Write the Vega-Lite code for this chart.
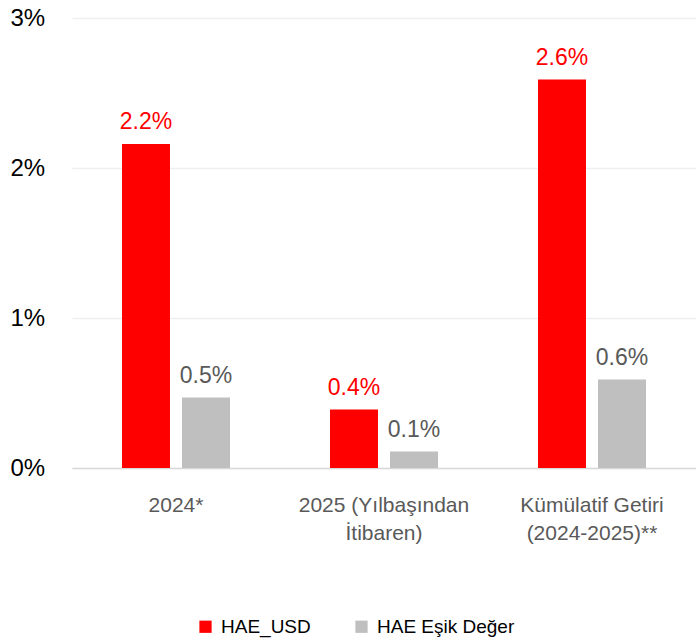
{
  "$schema": "https://vega.github.io/schema/vega-lite/v6.json",
  "width": 624,
  "height": 450,
  "autosize": "none",
  "padding": {"left": 72, "top": 18, "right": 0, "bottom": 176},
  "background": "white",
  "config": {
    "font": "Liberation Sans",
    "view": {"stroke": null}
  },
  "data": {
    "values": [
      {"cat": "2024*", "series": "HAE_USD", "value": 0.0216},
      {"cat": "2024*", "series": "HAE Eşik Değer", "value": 0.0047},
      {"cat": "2025 (Yılbaşından|İtibaren)", "series": "HAE_USD", "value": 0.0039},
      {"cat": "2025 (Yılbaşından|İtibaren)", "series": "HAE Eşik Değer", "value": 0.0011},
      {"cat": "Kümülatif Getiri|(2024-2025)**", "series": "HAE_USD", "value": 0.0259},
      {"cat": "Kümülatif Getiri|(2024-2025)**", "series": "HAE Eşik Değer", "value": 0.0059}
    ]
  },
  "encoding": {
    "x": {
      "field": "cat", "type": "nominal", "sort": null,
      "scale": {"paddingInner": 0, "paddingOuter": 0},
      "axis": {
        "title": null, "labelAngle": 0, "ticks": false, "tickSize": 0,
        "labelExpr": "split(datum.value, '|')",
        "labelFontSize": 21, "labelColor": "#595959", "labelPadding": 26,
        "labelLineHeight": 28, "domainColor": "#d9d9d9", "domainWidth": 1.5,
        "grid": false
      }
    },
    "xOffset": {
      "field": "series", "type": "nominal", "sort": ["HAE_USD", "HAE Eşik Değer"],
      "scale": {"paddingInner": 0.2, "paddingOuter": 0.833}
    },
    "y": {
      "field": "value", "type": "quantitative",
      "scale": {"domain": [0, 0.03], "nice": false},
      "axis": {
        "title": null, "format": ".0%", "values": [0, 0.01, 0.02, 0.03],
        "ticks": false, "tickSize": 0, "domain": false,
        "labelAlign": "left", "labelPadding": 62, "labelFontSize": 24, "labelColor": "#000000",
        "gridColor": "#efefef", "gridWidth": 1.5
      }
    }
  },
  "layer": [
    {
      "mark": {"type": "bar"},
      "encoding": {
        "color": {
          "field": "series", "type": "nominal",
          "sort": ["HAE_USD", "HAE Eşik Değer"],
          "scale": {"domain": ["HAE_USD", "HAE Eşik Değer"], "range": ["#FF0000", "#BFBFBF"]},
          "legend": {
            "title": null, "orient": "none", "direction": "horizontal",
            "legendX": 124, "legendY": 599,
            "symbolType": "square", "symbolSize": 150, "symbolStrokeWidth": 0,
            "labelFontSize": 19, "labelColor": "#000000", "columnPadding": 41, "labelOffset": 6
          }
        }
      }
    },
    {
      "mark": {"type": "text", "baseline": "bottom", "dy": -10, "fontSize": 23},
      "encoding": {
        "text": {"field": "value", "type": "quantitative", "format": ".1%"},
        "color": {
          "field": "series", "type": "nominal",
          "scale": {"domain": ["HAE_USD", "HAE Eşik Değer"], "range": ["#FF0000", "#595959"]},
          "legend": null
        }
      }
    }
  ],
  "resolve": {"scale": {"color": "independent"}}
}
